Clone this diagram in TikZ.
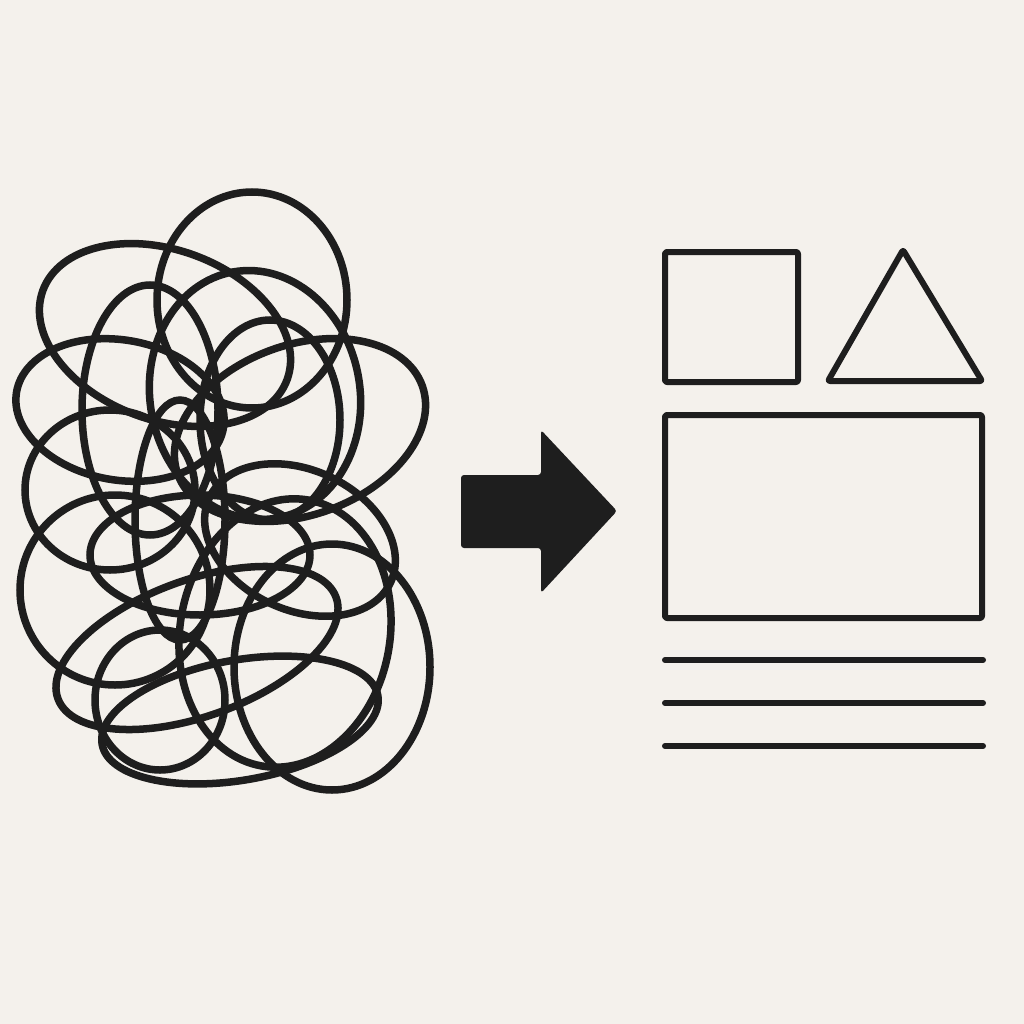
\documentclass[tikz,border=0pt]{standalone}
\definecolor{bg}{HTML}{F4F1EC}
\definecolor{ink}{HTML}{1E1E1E}
\begin{document}
\begin{tikzpicture}[x=1pt,y=-1pt,
  loop/.style={draw=ink,line width=7.5pt},
  shp/.style={draw=ink,line width=6pt,line join=round,rounded corners=2pt},
  rule/.style={draw=ink,line width=6pt,line cap=round}]
\fill[bg] (0,0) rectangle (1024,1024);
\useasboundingbox (0,0) rectangle (1024,1024);
% scribble
\foreach \cx/\cy/\rx/\ry/\a in {
  252/300/95/108/0,
  165/335/130/85/-20,
  150/410/68/125/0,
  255/395/105/125/10,
  300/430/130/85/20,
  270/420/70/100/0,
  120/410/105/70/-10,
  110/490/85/80/0,
  200/555/110/60/0,
  115/590/95/95/0,
  197/648/148/68/20,
  160/700/65/70/0,
  332/667/98/123/0,
  285/633/105/135/-10,
  180/520/45/120/0,
  300/540/100/70/-25,
  240/720/140/60/10}
  \draw[loop,rotate around={\a:(\cx,\cy)}] (\cx,\cy) ellipse ({\rx pt} and {\ry pt});
% arrow
\fill[ink,rounded corners=3pt] (461,475) -- (541,475) -- (541,430) -- (617,511) -- (541,593) -- (541,548) -- (461,548) -- cycle;
% shapes
\draw[shp] (665,252) rectangle (798,382);
\draw[shp] (903,250) -- (982,381) -- (828,381) -- cycle;
\draw[shp] (665,415) rectangle (982,618);
\coordinate (l1a) at (665,660); \coordinate (l1b) at (983,660);
\coordinate (l2a) at (665,703); \coordinate (l2b) at (983,703);
\coordinate (l3a) at (665,746); \coordinate (l3b) at (983,746);
\draw[rule] (l1a) -- (l1b);
\draw[rule] (l2a) -- (l2b);
\draw[rule] (l3a) -- (l3b);
\end{tikzpicture}
\end{document}
